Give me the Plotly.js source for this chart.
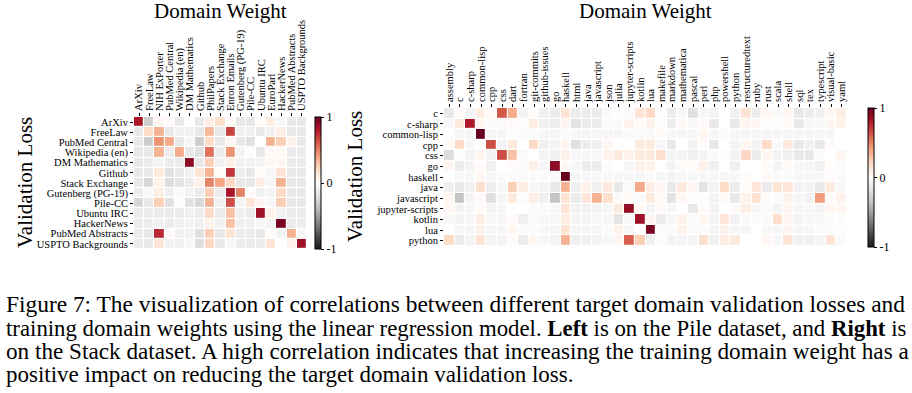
<!DOCTYPE html>
<html>
<head>
<meta charset="utf-8">
<script src="https://cdn.plot.ly/plotly-3.0.1.min.js"></script>
<style>html,body{margin:0;padding:0;background:#fff;}#chart{width:912px;height:393px;}</style>
</head>
<body>
<div id="chart"></div>
<script>
// ---------- Left: Pile dataset ----------
const pileCols = ["ArXiv","FreeLaw","NIH ExPorter","PubMed Central","Wikipedia (en)","DM Mathematics","Github","PhilPapers","Stack Exchange","Enron Emails","Gutenberg (PG-19)","Pile-CC","Ubuntu IRC","EuroParl","HackerNews","PubMed Abstracts","USPTO Backgrounds"];
const pileRows = ["ArXiv","FreeLaw","PubMed Central","Wikipedia (en)","DM Mathematics","Github","Stack Exchange","Gutenberg (PG-19)","Pile-CC","Ubuntu IRC","HackerNews","PubMed Abstracts","USPTO Backgrounds"];
const pileValues = [
  [0.82,-0.3,0.05,0.03,-0.15,0.0,-0.15,0.1,0.18,0.03,-0.15,-0.15,0.02,0.1,-0.05,-0.15,-0.15],
  [-0.15,0.2,0.35,-0.15,-0.1,-0.1,-0.15,0.33,-0.15,0.68,-0.1,-0.1,-0.15,-0.1,0.1,-0.15,-0.15],
  [-0.15,-0.3,0.45,0.38,-0.15,-0.05,-0.3,0.2,-0.15,0.05,-0.15,-0.2,0.0,0.35,0.25,0.07,-0.15],
  [-0.15,-0.15,0.35,-0.12,0.38,-0.15,-0.2,0.55,-0.12,0.45,-0.08,-0.02,-0.15,0.03,0.03,-0.12,-0.12],
  [-0.15,-0.12,-0.07,-0.12,-0.12,0.9,-0.15,0.25,-0.1,0.1,-0.1,-0.1,-0.08,0.05,0.05,-0.12,-0.12],
  [-0.15,-0.15,0.12,-0.2,-0.15,-0.1,0.15,0.35,0.02,0.72,-0.12,-0.15,0.02,-0.05,0.15,-0.15,-0.15],
  [-0.15,-0.25,0.07,-0.22,-0.18,-0.12,0.08,0.5,0.4,0.22,-0.15,-0.15,0.1,-0.05,0.35,-0.15,-0.15],
  [-0.12,-0.05,0.1,-0.1,-0.03,-0.08,-0.12,0.25,-0.12,0.82,0.5,0.02,-0.1,-0.08,0.2,-0.15,-0.15],
  [-0.25,-0.15,0.25,-0.2,-0.02,-0.2,-0.25,0.35,-0.1,0.65,-0.08,0.15,0.05,-0.05,0.25,-0.15,-0.15],
  [-0.12,-0.12,-0.12,-0.12,-0.12,-0.1,-0.12,0.2,-0.12,0.3,-0.1,-0.12,0.85,0.08,-0.08,-0.12,-0.12],
  [-0.12,-0.12,-0.1,-0.12,-0.1,-0.08,-0.1,0.07,-0.1,0.3,-0.1,-0.1,-0.05,-0.08,0.95,-0.12,-0.12],
  [-0.12,-0.15,0.75,0.03,-0.1,-0.08,-0.2,0.25,-0.15,0.15,-0.12,-0.12,-0.15,0.02,-0.08,0.35,-0.05],
  [-0.12,-0.15,0.15,-0.1,-0.1,-0.05,-0.22,0.22,-0.15,-0.05,-0.12,-0.12,-0.12,0.15,0.0,0.08,0.85]
];

// ---------- Right: Stack dataset ----------
const stackCols = ["assembly","c","c-sharp","common-lisp","cpp","css","dart","fortran","git-commits","github-issues","go","haskell","html","java","javascript","json","julia","jupyter-scripts","kotlin","lua","makefile","markdown","mathematica","pascal","perl","php","powershell","python","restructuredtext","ruby","rust","scala","shell","sql","tex","typescript","visual-basic","yaml"];
const stackRows = ["c","c-sharp","common-lisp","cpp","css","go","haskell","java","javascript","jupyter-scripts","kotlin","lua","python"];
const stackValues = [
  [-0.15,0.03,-0.08,0.1,0.03,0.62,0.38,-0.08,0.02,-0.1,-0.12,0.15,-0.12,-0.12,-0.12,-0.03,-0.02,-0.03,0.15,0.2,-0.02,-0.12,-0.05,-0.2,-0.05,-0.08,0.0,-0.1,0.15,-0.12,0.05,-0.03,0.05,-0.15,-0.12,-0.1,0.05,0.1],
  [-0.05,0.12,0.8,0.05,-0.03,-0.03,0.03,-0.02,0.1,-0.1,-0.12,0.05,-0.18,-0.12,-0.12,-0.03,-0.03,0.07,0.03,0.07,-0.02,-0.12,0.04,-0.05,0.03,-0.15,0.0,-0.15,0.05,0.05,-0.02,-0.02,0.03,-0.15,-0.05,-0.05,0.05,0.07],
  [0.0,-0.05,-0.05,1.0,-0.05,-0.05,0.02,-0.03,-0.03,-0.05,-0.05,-0.03,-0.05,-0.05,-0.05,-0.05,-0.05,-0.04,-0.04,-0.04,0.03,-0.05,-0.05,-0.05,0.05,-0.05,-0.03,-0.05,-0.05,-0.05,-0.05,-0.05,-0.05,-0.05,-0.05,-0.05,-0.05,0.0],
  [0.03,0.2,-0.05,0.0,0.65,-0.08,0.12,0.0,0.2,-0.1,-0.08,0.05,-0.2,-0.12,-0.1,0.05,0.0,0.0,0.12,0.12,-0.05,-0.15,0.0,-0.08,0.03,-0.15,0.0,-0.07,0.05,-0.07,0.2,-0.03,0.12,-0.15,-0.1,-0.15,0.03,0.0],
  [-0.22,-0.02,-0.08,0.05,-0.08,0.65,0.3,-0.03,0.0,-0.08,-0.1,0.07,-0.05,-0.05,-0.05,0.07,0.12,0.07,0.12,0.12,0.18,-0.08,-0.08,-0.1,-0.07,-0.03,-0.02,-0.08,0.22,-0.12,0.05,-0.07,-0.1,-0.15,-0.15,-0.03,0.0,0.05],
  [0.05,-0.12,-0.07,0.03,-0.1,0.0,0.03,-0.03,0.08,-0.05,0.9,0.05,-0.05,-0.12,-0.12,-0.02,0.0,-0.05,0.07,0.07,0.0,-0.07,0.03,0.02,0.07,-0.1,0.0,-0.1,0.0,0.0,0.03,-0.07,0.03,-0.05,-0.05,-0.1,0.02,-0.03],
  [0.0,-0.05,-0.05,0.05,-0.05,-0.03,-0.03,-0.03,-0.03,-0.03,-0.03,1.0,-0.05,-0.05,-0.05,-0.05,-0.05,-0.05,-0.05,-0.03,-0.05,-0.07,-0.05,-0.05,-0.05,-0.05,-0.05,-0.05,0.02,0.0,0.03,-0.03,-0.03,-0.05,-0.05,-0.05,0.02,-0.03],
  [-0.1,-0.15,-0.1,0.18,-0.12,-0.05,0.25,0.1,-0.05,-0.08,-0.15,0.35,-0.1,0.07,-0.1,0.12,-0.15,-0.03,0.38,0.1,0.05,-0.15,0.12,0.05,-0.18,-0.08,0.2,-0.12,0.03,0.15,-0.12,0.15,0.15,-0.08,-0.08,-0.15,0.12,-0.05],
  [0.05,-0.35,-0.07,0.03,-0.2,-0.05,0.12,-0.02,0.1,-0.1,-0.35,0.15,-0.12,0.15,0.35,0.18,-0.03,0.03,-0.03,0.12,0.03,-0.18,0.05,-0.02,-0.02,-0.07,0.03,-0.15,0.07,0.15,0.03,-0.03,0.07,-0.05,-0.1,0.42,0.03,0.07],
  [0.05,-0.08,-0.05,0.03,-0.08,-0.05,0.0,0.0,-0.03,-0.03,-0.05,0.15,-0.08,-0.08,-0.07,-0.05,0.12,0.88,0.03,-0.08,0.03,-0.05,0.0,-0.15,0.03,-0.08,0.0,0.03,0.1,-0.05,-0.03,-0.08,0.05,-0.05,-0.05,-0.08,0.05,0.05],
  [-0.05,-0.08,-0.05,0.1,-0.05,-0.05,0.03,-0.1,-0.03,-0.05,-0.05,0.1,-0.08,-0.07,-0.05,-0.05,-0.18,-0.05,0.85,0.05,-0.12,-0.05,0.07,-0.03,0.05,-0.08,0.15,-0.08,-0.03,-0.03,-0.03,0.18,0.05,-0.07,-0.05,-0.05,-0.03,-0.02],
  [0.0,-0.05,-0.05,0.08,-0.05,-0.05,0.05,-0.03,-0.03,-0.05,-0.05,0.15,-0.05,-0.05,-0.05,-0.03,0.08,-0.05,0.0,0.95,-0.03,-0.03,0.08,-0.03,-0.03,-0.07,0.07,-0.05,-0.05,0.0,-0.05,-0.05,0.05,-0.05,-0.05,-0.03,-0.03,-0.02],
  [0.2,-0.12,-0.08,0.15,-0.07,-0.08,0.03,-0.12,0.05,-0.05,-0.07,0.35,-0.1,-0.1,-0.08,-0.05,0.05,0.6,0.25,-0.1,0.02,-0.08,-0.07,-0.07,0.18,-0.1,0.1,0.12,0.0,0.0,0.05,-0.05,0.15,-0.1,-0.1,-0.07,0.15,-0.03]
];

const captionLines = [
  "Figure 7: The visualization of correlations between different target domain validation losses and",
  "training domain weights using the linear regression model. <b>Left</b> is on the Pile dataset, and <b>Right</b> is",
  "on the Stack dataset. A high correlation indicates that increasing the training domain weight has a",
  "positive impact on reducing the target domain validation loss."
];

const W = 912, H = 393;
const serif = "Liberation Serif";
const rdgyR = [[0,'#1a1a1a'],[0.1,'#4d4d4d'],[0.2,'#878787'],[0.3,'#bababa'],[0.4,'#e0e0e0'],[0.5,'#ffffff'],[0.6,'#fddbc7'],[0.7,'#f4a582'],[0.8,'#d6604d'],[0.9,'#b2182b'],[1,'#67001f']];
const px = v => v / W;
const py = v => 1 - v / H;

function cbar(xLeft, yTop, yBot) {
  return {
    x: px(xLeft), xanchor: 'left', xref: 'paper',
    y: py((yTop + yBot) / 2), yanchor: 'middle', yref: 'paper',
    len: yBot - yTop, lenmode: 'pixels',
    thickness: 6, thicknessmode: 'pixels',
    outlinewidth: 1, outlinecolor: '#000',
    tickvals: [-1, 0, 1], ticktext: ['-1', '0', '1'],
    ticks: 'outside', ticklen: 3, tickcolor: '#000',
    tickfont: {family: serif, size: 12, color: '#000'},
    xpad: 0, ypad: 0
  };
}

const traces = [
  {
    type: 'heatmap', x: pileCols, y: pileRows, z: pileValues,
    xaxis: 'x', yaxis: 'y', zmin: -1, zmax: 1, colorscale: rdgyR,
    xgap: 1.2, ygap: 1.2, hoverinfo: 'skip',
    colorbar: cbar(315, 117, 249)
  },
  {
    type: 'heatmap', x: stackCols, y: stackRows, z: stackValues,
    xaxis: 'x2', yaxis: 'y2', zmin: -1, zmax: 1, colorscale: rdgyR,
    xgap: 1.2, ygap: 1.2, hoverinfo: 'skip',
    colorbar: cbar(868, 108, 247)
  }
];

function xax(domain, anchor, cats) {
  return {domain, anchor, side: 'top', type: 'category', tickangle: -90,
    tickmode: 'array', tickvals: cats, ticktext: cats,
    ticks: 'outside', ticklen: 3, tickcolor: '#000', tickwidth: 1,
    tickfont: {family: serif, size: 10.5, color: '#000'}, showgrid: false, zeroline: false, showline: false, fixedrange: true};
}
function yax(domain, anchor, cats) {
  return {domain, anchor, type: 'category', autorange: 'reversed',
    tickmode: 'array', tickvals: cats, ticktext: cats,
    ticks: 'outside', ticklen: 3, tickcolor: '#000', tickwidth: 1,
    tickfont: {family: serif, size: 10.5, color: '#000'}, showgrid: false, zeroline: false, showline: false, fixedrange: true};
}

const annotations = [
  {text: 'Domain Weight', x: px(220), y: py(11), xref: 'paper', yref: 'paper', xanchor: 'center', yanchor: 'middle', showarrow: false, font: {family: serif, size: 21, color: '#000'}},
  {text: 'Domain Weight', x: px(645), y: py(11), xref: 'paper', yref: 'paper', xanchor: 'center', yanchor: 'middle', showarrow: false, font: {family: serif, size: 21, color: '#000'}},
  {text: 'Validation Loss', x: px(25), y: py(183), xref: 'paper', yref: 'paper', xanchor: 'center', yanchor: 'middle', textangle: -90, showarrow: false, font: {family: serif, size: 21, color: '#000'}},
  {text: 'Validation Loss', x: px(355), y: py(177), xref: 'paper', yref: 'paper', xanchor: 'center', yanchor: 'middle', textangle: -90, showarrow: false, font: {family: serif, size: 21, color: '#000'}}
];
const lineY = [304, 328, 351, 374];
const lineSize = [23.4, 22.8, 23.2, 23];
captionLines.forEach((t, i) => {
  annotations.push({text: t, x: px(4), y: py(lineY[i]), xref: 'paper', yref: 'paper', xanchor: 'left', yanchor: 'middle', showarrow: false, font: {family: serif, size: lineSize[i], color: '#000'}});
});

const layout = {
  width: W, height: H,
  margin: {l: 0, r: 0, t: 0, b: 0},
  paper_bgcolor: '#fff', plot_bgcolor: '#fff',
  showlegend: false,
  xaxis: xax([px(134), px(307)], 'y', pileCols),
  yaxis: yax([py(249), py(117)], 'x', pileRows),
  xaxis2: xax([px(444), px(847)], 'y2', stackCols),
  yaxis2: yax([py(246), py(108)], 'x2', stackRows),
  annotations
};

Plotly.newPlot('chart', traces, layout, {staticPlot: true, displayModeBar: false});
</script>
</body>
</html>
